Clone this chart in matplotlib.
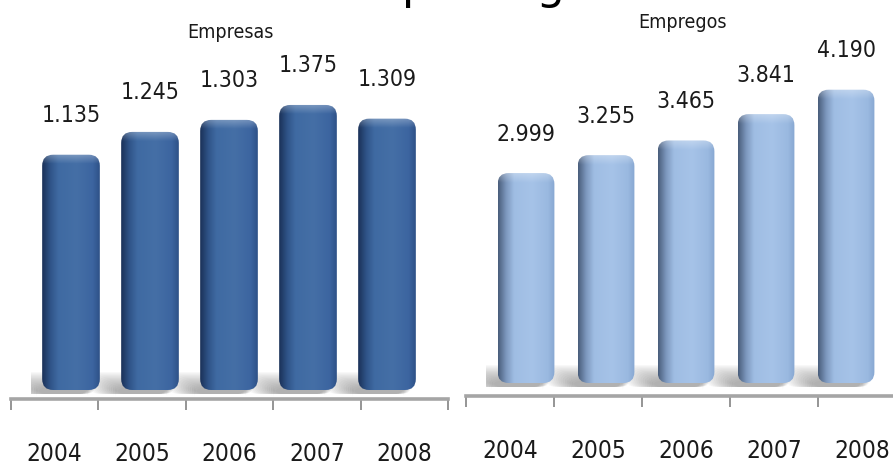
import numpy as np
import matplotlib.pyplot as plt
from matplotlib.patches import FancyBboxPatch
from matplotlib.colors import to_rgb

W, H = 893, 475

anos = ['2004', '2005', '2006', '2007', '2008']
empresas = [1135, 1245, 1303, 1375, 1309]
empregos = [2999, 3255, 3465, 3841, 4190]

plt.rcParams['font.family'] = ['DejaVu Sans']
plt.rcParams['font.stretch'] = 'condensed'

fig = plt.figure(figsize=(W / 100, H / 100), dpi=100)


def eixo(x0, x1, y0, y1):
    # axes from a pixel box (left, right, top, bottom)
    return fig.add_axes([x0 / W, 1 - y1 / H, (x1 - x0) / W, (y1 - y0) / H])


def rotulo(v):
    return f'{v:,}'.replace(',', '.')


def gradiente(paradas, n=60):
    pos = [p for p, _ in paradas]
    cores = np.array([to_rgb(c) for _, c in paradas])
    t = np.linspace(0, 1, n)
    return np.stack([np.interp(t, pos, cores[:, k]) for k in range(3)], axis=1)


def painel(valores, titulo, titulo_xy, paradas, centro0, passo, base, escala,
           largura, ticks0, passo_tick, linha_y):
    # bars
    x0 = centro0 - passo / 2
    x1 = x0 + passo * len(valores)
    ax = eixo(x0, x1, 0, base + 14)
    ax.set_axis_off()
    ymin, ymax = -14 / escala, base / escala
    bars = ax.bar(range(len(valores)), valores, width=largura, color='none')
    asp = passo / escala
    raio = 11 / passo
    cores = gradiente(paradas)
    for i, b in enumerate(bars):
        bx, bw, bh = b.get_x(), b.get_width(), b.get_height()
        # soft floor shadow, thrown to the left
        for k in range(14):
            sx = bx - (32 - k * 2.0) / passo
            sw = bw + (28 - k * 2.6) / passo
            sh = (22 - k * 1.2) / escala
            sombra = FancyBboxPatch((sx, -4 / escala), sw, sh,
                                    boxstyle=f'round,pad=0,rounding_size={10 / passo}',
                                    mutation_aspect=asp, fc='#555555', ec='none',
                                    alpha=0.04, zorder=1)
            ax.add_patch(sombra)
        forma = FancyBboxPatch((bx, 0), bw, bh,
                               boxstyle=f'round,pad=0,rounding_size={raio}',
                               mutation_aspect=asp, fc='none', ec='none', zorder=3)
        ax.add_patch(forma)
        ny = 160
        ys = np.linspace(bh, 0, ny)
        topo = np.clip(1 - (bh - ys) * escala / 9, 0, 1)[:, None, None]
        img = cores[None, :, :] * (1 - 0.28 * topo) + 0.28 * topo
        im = ax.imshow(img, extent=(bx, bx + bw, 0, bh), aspect='auto',
                       interpolation='bilinear', zorder=2)
        im.set_clip_path(forma)
        ax.annotate(rotulo(valores[i]), xy=(b.get_x() + bw / 2, bh),
                    xytext=(0, 39 * 0.72), textcoords='offset points',
                    ha='center', va='center', fontsize=16.5, color='#1a1a1a')
    ax.set_xlim(-0.5, len(valores) - 0.5)
    ax.set_ylim(ymin, ymax)

    # category axis with separators
    n = len(valores)
    axx = eixo(ticks0, ticks0 + passo_tick * n, linha_y - 20, linha_y)
    axx.patch.set_alpha(0)
    for s in ['top', 'left', 'right']:
        axx.spines[s].set_visible(False)
    axx.spines['bottom'].set_color('#a5a5a5')
    axx.spines['bottom'].set_linewidth(2.6)
    axx.set_yticks([])
    axx.set_xlim(-0.5, n - 0.5)
    axx.set_xticks(range(n), anos, fontsize=17.5, color='#1a1a1a')
    axx.tick_params(axis='x', which='major', length=0, pad=31)
    axx.set_xticks(np.arange(n + 1) - 0.5, minor=True)
    axx.tick_params(axis='x', which='minor', length=8, width=1.3, color='#8c8c8c')

    fig.text(titulo_xy[0] / W, 1 - titulo_xy[1] / H, titulo, ha='center',
             va='center', fontsize=14, color='#1a1a1a')


painel(empresas, 'Empresas', (230, 33),
       [(0.0, '#1b3259'), (0.14, '#2f5488'), (0.28, '#3f6aa2'),
        (0.6, '#456fa6'), (0.88, '#3c65a0'), (1.0, '#2e5288')],
       centro0=71, passo=79, base=390, escala=0.2073, largura=0.73,
       ticks0=11, passo_tick=87.4, linha_y=399)

painel(empregos, 'Empregos', (683, 22),
       [(0.0, '#4b5f7d'), (0.14, '#7d98be'), (0.28, '#9fbde3'),
        (0.6, '#a6c3e8'), (0.88, '#9ab9e0'), (1.0, '#88a8d2')],
       centro0=526, passo=80, base=383, escala=0.0700, largura=0.71,
       ticks0=466, passo_tick=88, linha_y=396)

# slide heading, mostly above the visible area
fig.text(141 / W, 1 + 1.4 / H, 'Resultados por região', ha='left', va='baseline',
         fontsize=32.4, family='DejaVu Sans', stretch='normal', color='black')

fig.savefig('out.png', dpi=100)
